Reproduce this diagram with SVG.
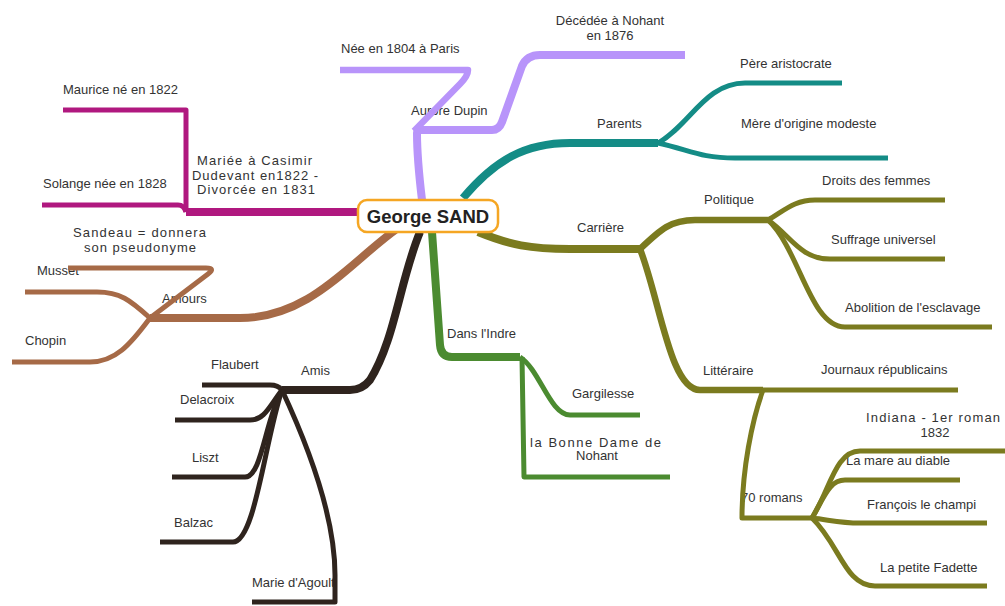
<svg xmlns="http://www.w3.org/2000/svg" width="1005" height="606" viewBox="0 0 1005 606">
<style>
text{font-family:"Liberation Sans",Arial,sans-serif;font-size:13px;fill:#333}
.c{text-anchor:middle}
path{fill:none;stroke-linejoin:round;stroke-linecap:butt}
.w1{stroke-width:8}.w2{stroke-width:6.5}.w3{stroke-width:5}
.pu{stroke:#B894FA}.te{stroke:#148C86}.ol{stroke:#7B7B1F}.gr{stroke:#4B8B30}
.db{stroke:#2F241E}.br{stroke:#A66A47}.ma{stroke:#B0187F}
</style>
<rect width="1005" height="606" fill="#fff"/>
<g id="labels">
<g id="n-nee"><text x="341" y="53">Née en 1804 à Paris</text></g>
<g id="n-decedee"><text class="c" x="610" y="25">Décédée à Nohant</text><text class="c" x="610" y="40">en 1876</text></g>
<g id="n-aurore"><text x="411" y="115">Aurore Dupin</text></g>
<g id="n-parents"><text x="597" y="128">Parents</text></g>
<g id="n-pere"><text x="740" y="68">Père aristocrate</text></g>
<g id="n-mere"><text x="741" y="128">Mère d'origine modeste</text></g>
<g id="n-carriere"><text x="577" y="232">Carrière</text></g>
<g id="n-politique"><text x="704" y="204">Politique</text></g>
<g id="n-droits"><text x="822" y="185">Droits des femmes</text></g>
<g id="n-suffrage"><text x="831" y="244">Suffrage universel</text></g>
<g id="n-abolition"><text x="845" y="312">Abolition de l'esclavage</text></g>
<g id="n-litteraire"><text x="703" y="375">Littéraire</text></g>
<g id="n-journaux"><text x="821" y="374">Journaux républicains</text></g>
<g id="n-indiana"><text x="866" y="422" textLength="134" lengthAdjust="spacing">Indiana - 1er roman</text><text class="c" x="935" y="437">1832</text></g>
<g id="n-mare"><text x="846" y="465">La mare au diable</text></g>
<g id="n-romans"><text x="741" y="502">70 romans</text></g>
<g id="n-francois"><text x="867" y="509">François le champi</text></g>
<g id="n-fadette"><text x="880" y="572">La petite Fadette</text></g>
<g id="n-indre"><text x="447" y="338">Dans l'Indre</text></g>
<g id="n-gargilesse"><text x="572" y="398">Gargilesse</text></g>
<g id="n-bonnedame"><text x="530" y="447" textLength="131" lengthAdjust="spacing">la Bonne Dame de</text><text class="c" x="597" y="460">Nohant</text></g>
<g id="n-amis"><text x="301" y="375">Amis</text></g>
<g id="n-flaubert"><text x="211" y="369">Flaubert</text></g>
<g id="n-delacroix"><text x="180" y="404">Delacroix</text></g>
<g id="n-liszt"><text x="192" y="462">Liszt</text></g>
<g id="n-balzac"><text x="174" y="527">Balzac</text></g>
<g id="n-marie"><text x="252" y="587">Marie d'Agoult</text></g>
<g id="n-amours"><text x="162" y="303">Amours</text></g>
<g id="n-musset"><text x="37" y="275">Musset</text></g>
<g id="n-chopin"><text x="25" y="345">Chopin</text></g>
<g id="n-sandeau"><text x="73" y="237" textLength="133" lengthAdjust="spacing">Sandeau = donnera</text><text class="c" x="140" y="252" textLength="112" lengthAdjust="spacing">son pseudonyme</text></g>
<g id="n-mariee"><text x="197" y="165" textLength="115" lengthAdjust="spacing">Mariée à Casimir</text><text x="192" y="180" textLength="126" lengthAdjust="spacing">Dudevant en1822 -</text><text x="197" y="194" textLength="118" lengthAdjust="spacing">Divorcée en 1831</text></g>
<g id="n-maurice"><text x="63" y="94">Maurice né en 1822</text></g>
<g id="n-solange"><text x="43" y="188">Solange née en 1828</text></g>
</g>
<g id="connectors">
<path class="pu w1" d="M422,200 C419,175 417,150 417,133 Q417,130 421,130 L492,130 Q499,130 502,122 L522,66 Q527,55 540,55 L685,55"/>
<path class="pu w2" d="M414,131 L460,84 Q468,76 468,70 L340,70"/>
<path class="te w1" d="M463,198 C495,160 525,143 570,143 L658,143"/>
<path class="te w3" d="M658,143 C690,125 705,83 745,83 L842,83"/>
<path class="te w3" d="M658,143 C690,150 700,158 735,158 L888,158"/>
<path class="ol w1" d="M478,232 C510,245 530,249 570,249 L640,249"/>
<path class="ol w2" d="M640,249 C660,230 670,220 695,220 L768,220"/>
<path class="ol w3" d="M768,220 C785,210 795,200 815,200 L945,200"/>
<path class="ol w3" d="M768,220 C790,235 800,259 830,259 L945,259"/>
<path class="ol w3" d="M768,220 C800,250 810,327 845,327 L992,327"/>
<path class="ol w2" d="M640,249 C660,300 670,390 700,390 L763,390"/>
<path class="ol w3" d="M763,390 L958,390"/>
<path class="ol w3" d="M763,390 C752,420 742,470 742,518 L812,518"/>
<path class="ol w3" d="M812,518 C830,490 835,451 860,451 L1005,451"/>
<path class="ol w3" d="M812,518 C825,495 830,480 845,480 L960,480"/>
<path class="ol w3" d="M812,518 C830,520 840,523 860,523 L987,523"/>
<path class="ol w3" d="M812,518 C840,545 845,586 875,586 L987,586"/>
<path class="gr w1" d="M432,232 L440,345 Q441,357 452,357 L520,357"/>
<path class="gr w3" d="M520,357 C540,370 550,415 570,415 L640,415"/>
<path class="gr w3" d="M522,357 L524,477 L670,477"/>
<path class="db w1" d="M420,232 C400,280 395,340 370,380 Q362,390 350,390 L282,390"/>
<path class="db w3" d="M282,390 Q278,385 270,385 L202,385"/>
<path class="db w3" d="M282,390 C270,405 265,420 250,420 L175,420"/>
<path class="db w3" d="M282,390 C265,420 262,477 245,477 L172,477"/>
<path class="db w3" d="M282,390 C265,440 255,542 233,542 L160,542"/>
<path class="db w3" d="M282,390 C310,450 335,520 335,575 L335,602 L252,602"/>
<path class="br w1" d="M398,228 C350,262 310,318 240,318 L150,318"/>
<path class="br w3" d="M150,318 L208,274 Q216,268 206,268 L68,268"/>
<path class="br w3" d="M150,318 C130,300 120,292 97,292 L25,292"/>
<path class="br w3" d="M150,318 C130,345 115,362 90,362 L12,362"/>
<path class="ma w1" d="M358,212 L186,212"/>
<path class="ma w3" d="M186,212 Q184,205 178,205 L42,205"/>
<path class="ma w3" d="M186,212 L186,110 L63,110"/>
</g>
<g id="n-center">
<rect x="358" y="200" width="140" height="32" rx="9" fill="#fff" stroke="#F5A623" stroke-width="2.5"/>
<text class="c" x="428" y="223" style="font-size:18.5px;font-weight:bold;fill:#222">George SAND</text>
</g>
</svg>
